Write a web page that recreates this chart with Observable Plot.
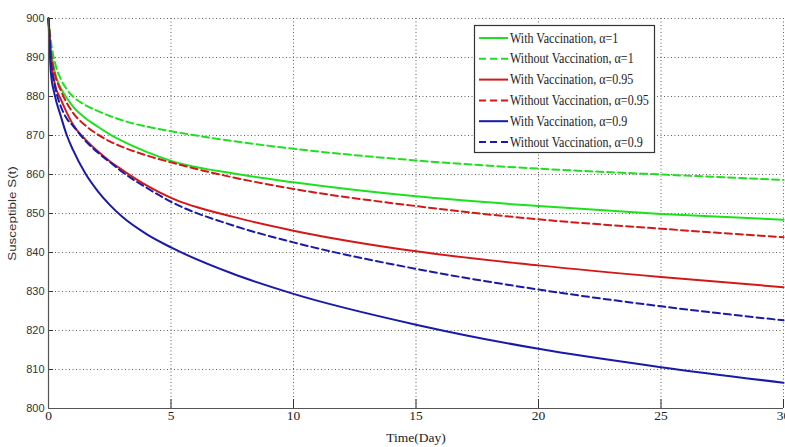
<!DOCTYPE html>
<html>
<head>
<meta charset="utf-8">
<script src="https://cdn.jsdelivr.net/npm/d3@7"></script>
<script src="https://cdn.jsdelivr.net/npm/@observablehq/plot@0.6"></script>
<style>
  body { margin: 0; background: #fff; }
  #wrap { position: relative; width: 785px; height: 447px; overflow: hidden; background: #fff; }
  #legend { position: absolute; left: 473px; top: 24px; }
</style>
</head>
<body>
<div id="wrap"></div>
<script>
// ---- data ----
const time = [0, 0.1, 0.25, 0.5, 0.75, 1, 1.5, 2, 2.5, 3, 4, 5, 7.5, 10, 15, 20, 25, 30];

const withVacc1      = [900, 892.0, 886.5, 882.2, 879.6, 877.4, 874.5, 872.3, 870.3, 868.6, 865.8, 863.5, 860.3, 858.0, 854.4, 851.9, 849.9, 848.4];
const withoutVacc1   = [900, 894.0, 889.0, 884.5, 881.8, 880.0, 877.8, 876.3, 875.0, 873.9, 872.3, 871.1, 868.6, 866.6, 863.6, 861.5, 860.0, 858.6];
const withVacc095    = [900, 890.0, 883.5, 879.3, 875.8, 872.8, 869.0, 866.0, 863.4, 861.2, 857.2, 854.0, 849.2, 845.6, 840.3, 836.7, 833.7, 831.1];
const withoutVacc095 = [900, 891.5, 886.0, 881.6, 878.3, 875.8, 872.6, 870.3, 868.5, 867.1, 864.9, 863.1, 859.3, 856.3, 851.9, 848.5, 846.1, 843.9];
const withVacc09     = [900, 886.0, 880.5, 875.0, 870.0, 866.3, 860.3, 855.8, 852.2, 849.2, 844.7, 841.3, 834.6, 829.4, 821.5, 815.3, 810.6, 806.6];
const withoutVacc09  = [900, 889.0, 883.0, 877.5, 874.3, 872.5, 868.7, 865.7, 863.2, 860.7, 856.6, 853.0, 847.0, 842.6, 835.8, 830.5, 826.2, 822.6];

const seriesNames = [
  "With Vaccination, α=1",
  "Without Vaccination, α=1",
  "With Vaccination, α=0.95",
  "Without Vaccination, α=0.95",
  "With Vaccination, α=0.9",
  "Without Vaccination, α=0.9"
];
const seriesValues = [withVacc1, withoutVacc1, withVacc095, withoutVacc095, withVacc09, withoutVacc09];
const seriesColors = ["#1fe01f", "#1fe01f", "#d41818", "#d41818", "#1a1aa8", "#1a1aa8"];
const seriesDashed = [false, true, false, true, false, true];

const xTicks = [0, 5, 10, 15, 20, 25, 30];
const yTicks = [800, 810, 820, 830, 840, 850, 860, 870, 880, 890, 900];

// ---- build table ----
const rows = seriesNames.flatMap((name, k) =>
  time.map((t, i) => ({ t, S: seriesValues[k][i], series: name }))
);

const gridStyle = { stroke: "#444", strokeOpacity: 0.85, strokeDasharray: "1,2.5", strokeWidth: 1 };

const lineMarks = seriesNames.map((name, k) =>
  Plot.line(rows.filter(d => d.series === name), {
    x: "t", y: "S",
    stroke: seriesColors[k],
    strokeWidth: 2,
    strokeDasharray: seriesDashed[k] ? "7,4" : null,
    curve: "monotone-x"
  })
);

const chart = Plot.plot({
  width: 785,
  height: 447,
  marginLeft: 48,
  marginRight: 2,
  marginTop: 18,
  marginBottom: 39,
  style: { background: "#fff", overflow: "hidden" },
  x: { domain: [0, 30] },
  y: { domain: [800, 900] },
  marks: [
    Plot.gridX(xTicks, gridStyle),
    Plot.gridY(yTicks, gridStyle),
    // inward tick marks
    Plot.axisY(yTicks, { tickSize: -5, tickFormat: () => "", label: null, stroke: "#333" }),
    Plot.axisX(xTicks, { tickSize: -9, tickFormat: () => "", label: null, stroke: "#333" }),
    // tick labels
    Plot.axisY(yTicks, {
      tickSize: 0, tickPadding: 4,
      fontFamily: "Liberation Sans", fontSize: 11, fill: "#333",
      label: "Susceptible S(t)", labelAnchor: "center", labelOffset: 40, labelArrow: "none"
    }),
    Plot.axisX(xTicks, {
      tickSize: 0, tickPadding: 2,
      fontFamily: "Liberation Serif", fontSize: 13.5, fill: "#222",
      label: "Time(Day)", labelAnchor: "center", labelOffset: 33, labelArrow: "none"
    }),
    ...lineMarks,
    // axis lines (left and bottom)
    Plot.ruleX([0], { stroke: "#555", strokeWidth: 1.2 }),
    Plot.ruleY([800], { stroke: "#555", strokeWidth: 1.2 })
  ]
});

document.getElementById("wrap").appendChild(chart);

// stretch the rotated y label along its length to mimic the reference's proportions
d3.select(chart).selectAll('g[aria-label="y-axis label"] text').each(function () {
  const tr = this.getAttribute("transform") || "";
  this.setAttribute("transform", tr + " scale(1.22,1)");
});

// ---- legend (overlay box in the upper right) ----
const legW = 181, legH = 128, rowH = 20.8;
const legend = d3.select("#wrap").append("svg")
  .attr("id", "legend")
  .attr("width", legW + 2)
  .attr("height", legH + 2);

legend.append("rect")
  .attr("x", 1.5).attr("y", 1.5)
  .attr("width", legW - 1).attr("height", legH - 1)
  .attr("fill", "#fff").attr("stroke", "#333").attr("stroke-width", 1.2);

seriesNames.forEach((name, k) => {
  const cy = 14 + k * rowH;
  legend.append("line")
    .attr("x1", 6).attr("x2", 35)
    .attr("y1", cy).attr("y2", cy)
    .attr("stroke", seriesColors[k])
    .attr("stroke-width", 2)
    .attr("stroke-dasharray", seriesDashed[k] ? "7,4" : null);
  legend.append("text")
    .attr("transform", `translate(37,${cy + 4.5}) scale(0.86,1)`)
    .attr("font-family", "Liberation Serif")
    .attr("font-size", 14)
    .attr("fill", "#222")
    .text(name);
});
</script>
</body>
</html>
